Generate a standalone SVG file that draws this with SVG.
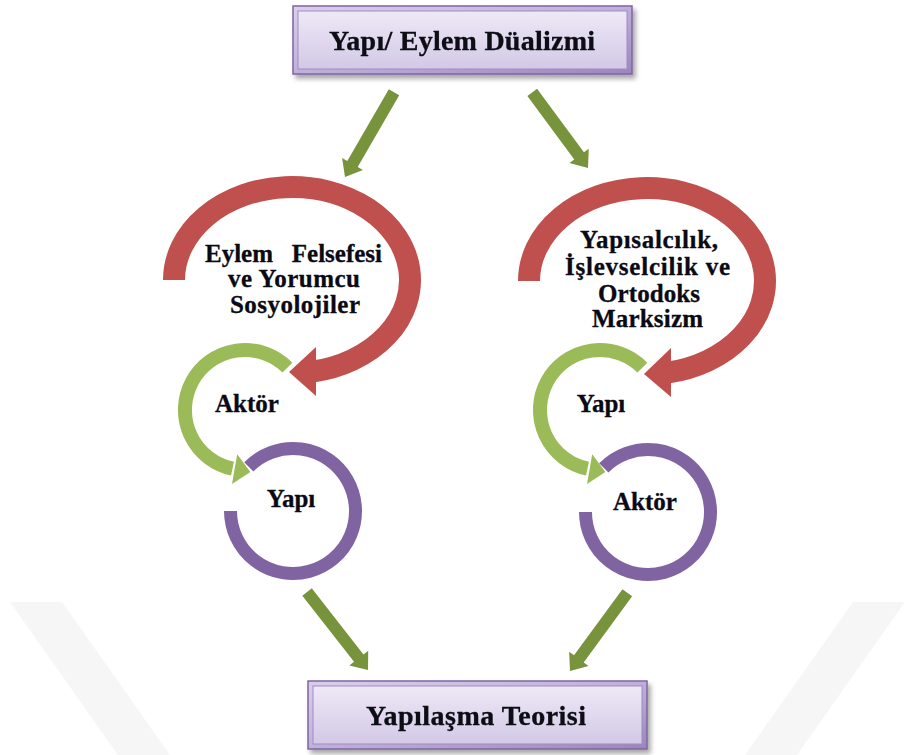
<svg xmlns="http://www.w3.org/2000/svg" width="915" height="755" viewBox="0 0 915 755">
<defs>
  <linearGradient id="boxFill" x1="0" y1="0" x2="0" y2="1">
    <stop offset="0" stop-color="#eee9f6"/>
    <stop offset="1" stop-color="#d3c8e6"/>
  </linearGradient>
  <linearGradient id="bevel" x1="0" y1="0" x2="1" y2="1">
    <stop offset="0" stop-color="#d9cfec"/>
    <stop offset="0.5" stop-color="#bfb0da"/>
    <stop offset="1" stop-color="#9a86bd"/>
  </linearGradient>
  <filter id="shadow" x="-10%" y="-20%" width="125%" height="160%">
    <feGaussianBlur in="SourceAlpha" stdDeviation="2.5"/>
    <feOffset dx="3" dy="4" result="b"/>
    <feComponentTransfer><feFuncA type="linear" slope="0.35"/></feComponentTransfer>
    <feMerge><feMergeNode/><feMergeNode in="SourceGraphic"/></feMerge>
  </filter>
  <style>
    .t { font-family: "Liberation Serif", "Times New Roman", serif; font-weight: bold; fill: #0a0a14; stroke: #0a0a14; stroke-width: 0.3; }
    .title { font-size: 28px; text-anchor: middle; }
    .lbl { font-size: 25px; text-anchor: middle; }
    .red { fill: none; stroke: #c0504d; stroke-width: 22; }
    .redh { fill: #c0504d; }
    .grn { fill: none; stroke: #9bbb59; stroke-width: 14; }
    .grnh { fill: #9bbb59; }
    .pur { fill: none; stroke: #8064a2; stroke-width: 13; }
    .arr { fill: #77933c; }
    .outer { fill: url(#bevel); stroke: #8064a2; stroke-width: 1.5; }
    .inner { fill: url(#boxFill); stroke: #9f8bc2; stroke-width: 1; }
    .wm { fill: #f6f6f6; }
  </style>
</defs>
<rect width="915" height="755" fill="#ffffff"/>
<g id="watermark">
  <polygon class="wm" points="10,602 62,602 170,755 118,755"/>
  <polygon class="wm" points="905,602 853,602 745,755 797,755"/>
</g>
<g id="connectors">
  <path class="arr" transform="translate(345,177) rotate(120)" d="M0,0 L-15,-12 L-15,-6 L-98,-6 L-98,6 L-15,6 L-15,12 Z"/>
  <path class="arr" transform="translate(588,168) rotate(53.6)" d="M0,0 L-15,-12 L-15,-6 L-94,-6 L-94,6 L-15,6 L-15,12 Z"/>
  <path class="arr" transform="translate(368,670) rotate(52)" d="M0,0 L-15,-12 L-15,-6 L-99,-6 L-99,6 L-15,6 L-15,12 Z"/>
  <path class="arr" transform="translate(570,671) rotate(126.2)" d="M0,0 L-15,-12 L-15,-6 L-97,-6 L-97,6 L-15,6 L-15,12 Z"/>
</g>
<g id="top-box" filter="url(#shadow)">
  <rect class="outer" x="293" y="6" width="339" height="68"/>
  <rect class="inner" x="298" y="11" width="329" height="58"/>
  <text class="t title" x="462" y="50" textLength="266" lengthAdjust="spacing">Yapı/ Eylem Düalizmi</text>
</g>
<g id="bottom-box" filter="url(#shadow)">
  <rect class="outer" x="308" y="681" width="339" height="68"/>
  <rect class="inner" x="313" y="686" width="329" height="58"/>
  <text class="t title" x="476" y="725" textLength="220" lengthAdjust="spacing">Yapılaşma Teorisi</text>
</g>
<g id="left-red">
  <path class="red" d="M174,280 A118,93 0 1 1 312.5,371.6"/>
  <polygon class="redh" points="289,372 316,347 316,396"/>
  <text class="t lbl" x="205" y="262" style="text-anchor:start">Eylem</text>
  <text class="t lbl" x="382" y="262" style="text-anchor:end">Felsefesi</text>
  <text class="t lbl" x="294" y="287" textLength="132" lengthAdjust="spacing">ve Yorumcu</text>
  <text class="t lbl" x="295" y="313" textLength="130" lengthAdjust="spacing">Sosyolojiler</text>
</g>
<g id="left-green">
  <path class="grn" d="M287.4,367.6 A60,60 0 1 0 232.5,468.7"/>
  <polygon class="grnh" points="250.4,471.9 232,483.9 237.2,454.3"/>
  <text class="t lbl" x="247" y="412">Aktör</text>
</g>
<g id="left-purple">
  <path class="pur" d="M230.5,511 A62.5,62.5 0 1 0 248.8,466.8"/>
  <text class="t lbl" x="291" y="507">Yapı</text>
</g>
<g id="right-red">
  <path class="red" d="M529,281 A118,93 0 1 1 667.5,372.6"/>
  <polygon class="redh" points="644,374 671,348 671,397"/>
  <text class="t lbl" x="649" y="248" textLength="138" lengthAdjust="spacing">Yapısalcılık,</text>
  <text class="t lbl" x="647.5" y="275" textLength="165" lengthAdjust="spacing">İşlevselcilik ve</text>
  <text class="t lbl" x="649" y="302" textLength="102" lengthAdjust="spacing">Ortodoks</text>
  <text class="t lbl" x="647.5" y="327" textLength="111" lengthAdjust="spacing">Marksizm</text>
</g>
<g id="right-green">
  <path class="grn" d="M642.4,367.6 A60,60 0 1 0 587.5,468.7"/>
  <polygon class="grnh" points="605.4,471.9 587,483.9 592.2,454.3"/>
  <text class="t lbl" x="601" y="412">Yapı</text>
</g>
<g id="right-purple">
  <path class="pur" d="M585.5,512 A62.5,62.5 0 1 0 603.8,467.8"/>
  <text class="t lbl" x="645" y="510">Aktör</text>
</g>
</svg>
